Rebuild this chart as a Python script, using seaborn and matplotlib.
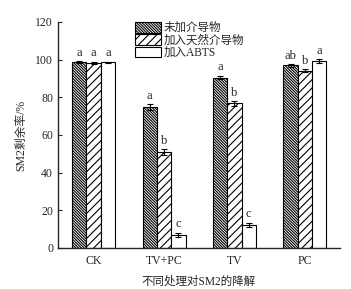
import matplotlib
matplotlib.use('Agg')
import matplotlib.pyplot as plt
import seaborn as sns
import pandas as pd
import numpy as np

# data
groups = ['CK', 'TV+PC', 'TV', 'PC']
treatments = ['未加介导物', '加入天然介导物', '加入ABTS']
vals_none = [98.6, 74.7, 90.5, 97.0]
vals_natural = [98.3, 51.0, 76.8, 94.2]
vals_abts = [98.5, 6.9, 12.2, 99.1]
err_none = [0.5, 1.5, 1.0, 0.8]
err_natural = [0.6, 1.5, 1.2, 0.6]
err_abts = [0.5, 1.3, 1.2, 1.0]
letters_none = ['a', 'a', 'a', 'ab']
letters_natural = ['a', 'b', 'b', 'b']
letters_abts = ['a', 'c', 'c', 'a']

sns.set_style("ticks")
plt.rcParams['font.family'] = ['Liberation Serif', 'Noto Sans CJK SC']
plt.rcParams['hatch.linewidth'] = 0.8

df = pd.DataFrame({
    'group': groups * 3,
    'treatment': [treatments[0]] * 4 + [treatments[1]] * 4 + [treatments[2]] * 4,
    'value': vals_none + vals_natural + vals_abts,
})
errs = [err_none, err_natural, err_abts]
letters = [letters_none, letters_natural, letters_abts]
hatches = ['\\' * 12, '/' * 4, '']

fig = plt.figure(figsize=(3.51, 2.89), dpi=100)
ax = fig.add_axes([0.165, 0.142, 0.804, 0.782])

sns.barplot(data=df, x='group', y='value', hue='treatment', order=groups,
            hue_order=treatments, palette=['white'] * 3, width=0.61,
            edgecolor='black', linewidth=0.8, errorbar=None, ax=ax)

bar_conts = list(ax.containers)
for k, cont in enumerate(bar_conts):
    for j, bar in enumerate(cont):
        bar.set_hatch(hatches[k])
        bar.set_edgecolor('black')
        xc = bar.get_x() + bar.get_width() / 2
        h = bar.get_height()
        ax.errorbar(xc, h, yerr=errs[k][j], fmt='none', ecolor='black',
                    elinewidth=0.8, capsize=2.5, capthick=0.8)
        ax.text(xc, h + errs[k][j] + 1.2, letters[k][j], ha='center',
                va='bottom', fontsize=9)

ax.set_xlim(-0.507, 3.5)
ax.set_ylim(0, 120)
ax.set_yticks([0, 20, 40, 60, 80, 100, 120])
ax.tick_params(axis='y', direction='in', length=3, width=0.8, labelsize=8.5)
ax.tick_params(axis='x', length=0, labelsize=8.5, pad=5)
sns.despine(ax=ax)
for s in ['left', 'bottom']:
    ax.spines[s].set_linewidth(1.0)

ax.set_xlabel('不同处理对SM2的降解', fontsize=8.3, labelpad=6)
ax.set_ylabel('SM2剩余率/%', fontsize=8.5, labelpad=6)

leg = ax.legend(loc='upper left', bbox_to_anchor=(0.272, 1.0), frameon=False,
                fontsize=8.3, handlelength=2.3, handleheight=1.05,
                labelspacing=0, handletextpad=0.25, borderpad=0,
                borderaxespad=0)
for patch, hz in zip(leg.get_patches(), hatches):
    patch.set_hatch(hz)
    patch.set_edgecolor('black')
    patch.set_facecolor('white')

plt.savefig('out.png', dpi=100)
